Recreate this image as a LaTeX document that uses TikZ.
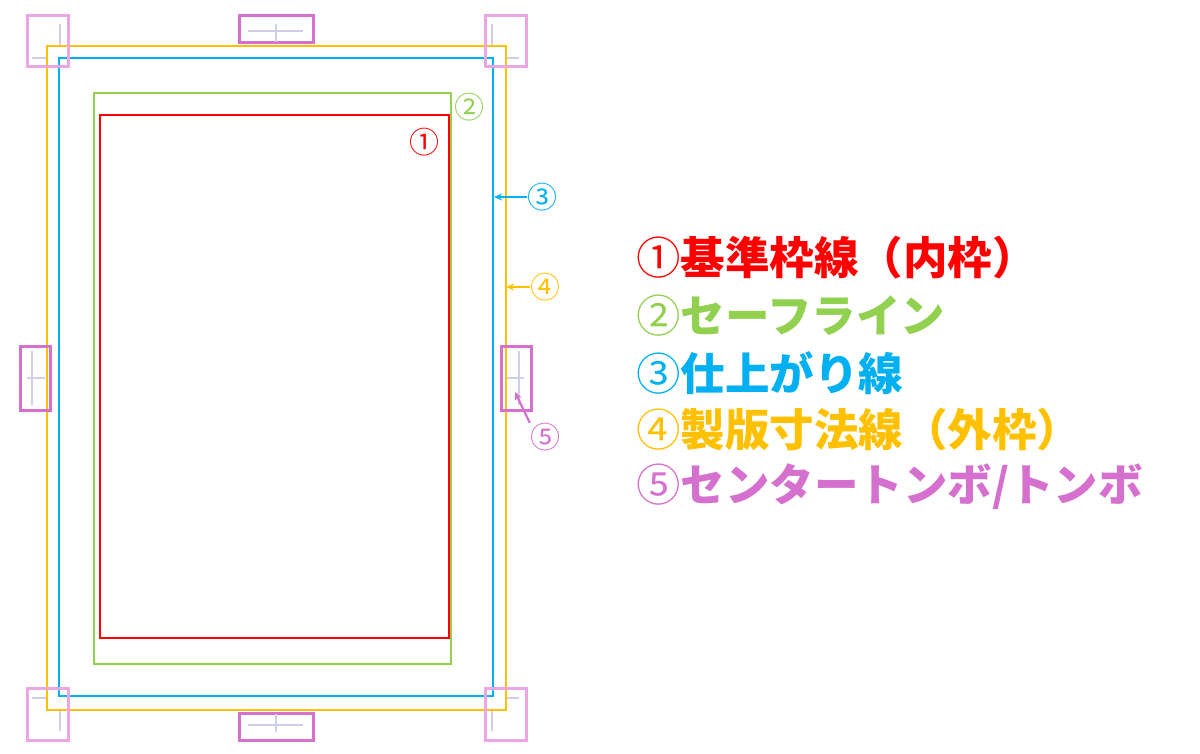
\documentclass[tikz,border=0pt]{standalone}
\usepackage{fontspec}
\newfontfamily\jp{Noto Sans CJK JP}
\usetikzlibrary{arrows.meta}
\definecolor{cred}{HTML}{FF0000}
\definecolor{cgreen}{HTML}{92D050}
\definecolor{cblue}{HTML}{00B0F0}
\definecolor{corange}{HTML}{FFC000}
\definecolor{cpink}{HTML}{D670CE}
\definecolor{cpinklt}{HTML}{EBA6E3}
\definecolor{ccrop}{HTML}{CFCFEA}
\begin{document}
\begin{tikzpicture}[x=1pt,y=-1pt,
  frame/.style={line width=2.4pt},
  cmark/.style={draw=cpink,line width=3pt},
  cornerbox/.style={draw=cpinklt,line width=3pt},
  crop/.style={draw=ccrop,line width=1.2pt},
  lab/.style={inner sep=0pt,font=\jp\fontsize{30}{30}\selectfont},
  leg/.style={inner sep=0pt,anchor=west,font=\jp\bfseries\fontsize{44.5}{44.5}\selectfont},
  pt/.style={-{Stealth[length=8pt,width=7pt]},line width=2.2pt}]
\useasboundingbox (0,0) rectangle (1200,754);
% frames
\draw[frame,draw=corange] (47,46) rectangle (506,710);
\draw[frame,draw=cblue] (59,58) rectangle (493,696);
\draw[frame,draw=cgreen] (94,93) rectangle (451,664);
\draw[frame,draw=cred] (100,115) rectangle (449,638);
% corner marks
\draw[cornerbox] (27,16) rectangle (68,67);
\draw[cornerbox] (485,16) rectangle (526,67);
\draw[cornerbox] (27,688) rectangle (68,740);
\draw[cornerbox] (485,688) rectangle (526,740);
\draw[crop] (60,24) -- (60,45);
\draw[crop] (32,58) -- (46,58);
\draw[crop] (492,24) -- (492,45);
\draw[crop] (507,58) -- (519,58);
\draw[crop] (32,698) -- (46,698);
\draw[crop] (60,711) -- (60,731);
\draw[crop] (507,698) -- (519,698);
\draw[crop] (492,711) -- (492,731);
% center marks
\draw[cmark] (239,16) rectangle (313,43);
\draw[crop] (248,31) -- (303,31);
\draw[crop] (276,24) -- (276,42);
\draw[cmark] (239,713) rectangle (313,740);
\draw[crop] (248,725) -- (303,725);
\draw[crop] (276,714) -- (276,732);
\draw[cmark] (20,346) rectangle (50,410);
\draw[crop] (32,351) -- (32,405);
\draw[crop] (27,378) -- (45,378);
\draw[cmark] (501,346) rectangle (531,410);
\draw[crop] (519,351) -- (519,405);
\draw[crop] (507,378) -- (524,378);
% labels
\node[lab,text=cred] (l1) at (424,142) {①};
\node[lab,text=cgreen] (l2) at (469,107) {②};
\node[lab,text=cblue] (l3) at (542,197) {③};
\node[lab,text=corange] (l4) at (545,287) {④};
\node[lab,text=cpink] (l5) at (545,437) {⑤};
\coordinate (t3) at (494,197);
\coordinate (t4) at (506,287);
\coordinate (t5) at (515,392);
\draw[pt,cblue] (l3.west) -- (t3);
\draw[pt,corange] (l4.west) -- (t4);
\draw[pt,cpink] (l5.north west) -- (t5);
% legend
\node[leg,text=cred] (g1) at (636,258) {{\mdseries ①}基準枠線（内枠）};
\node[leg,text=cgreen] (g2) at (636,316) {{\mdseries ②}セーフライン};
\node[leg,text=cblue] (g3) at (636,373) {{\mdseries ③}仕上がり線};
\node[leg,text=corange] (g4) at (636,430) {{\mdseries ④}製版寸法線（外枠）};
\node[leg,text=cpink] (g5) at (636,487) {{\mdseries ⑤}センタートンボ/トンボ};
\end{tikzpicture}
\end{document}
